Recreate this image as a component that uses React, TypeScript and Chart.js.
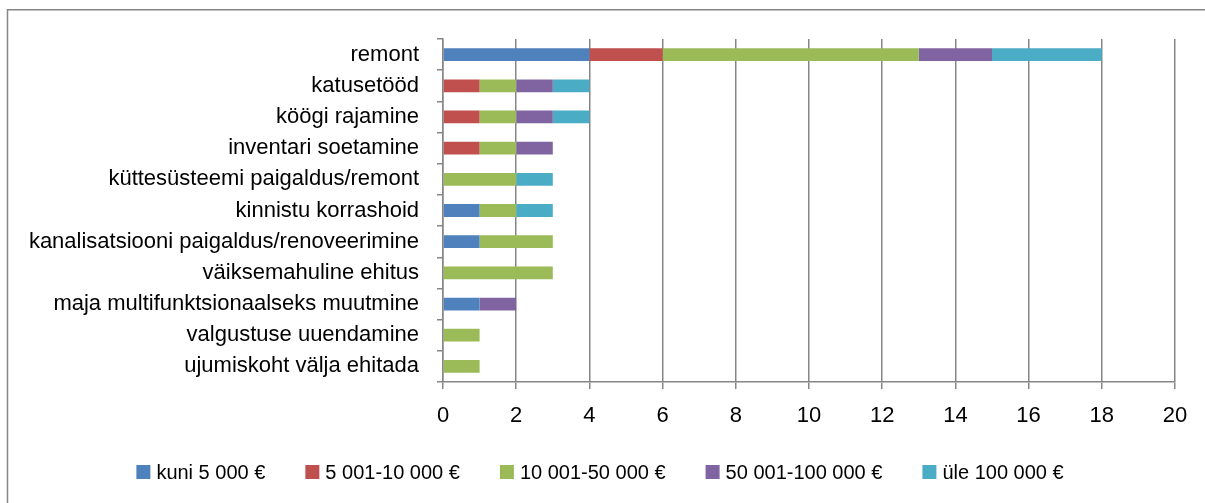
import React, { useEffect, useRef } from "react";
import { Chart, registerables } from "chart.js";

Chart.register(...registerables);

const categories = [
  "remont",
  "katusetööd",
  "köögi rajamine",
  "inventari soetamine",
  "küttesüsteemi paigaldus/remont",
  "kinnistu korrashoid",
  "kanalisatsiooni paigaldus/renoveerimine",
  "väiksemahuline ehitus",
  "maja multifunktsionaalseks muutmine",
  "valgustuse uuendamine",
  "ujumiskoht välja ehitada",
];

const seriesLabels = [
  "kuni 5 000 €",
  "5 001-10 000 €",
  "10 001-50 000 €",
  "50 001-100 000 €",
  "üle 100 000 €",
];

const kuni5000 = [4, 0, 0, 0, 0, 1, 1, 0, 1, 0, 0];
const from5001to10000 = [2, 1, 1, 1, 0, 0, 0, 0, 0, 0, 0];
const from10001to50000 = [7, 1, 1, 1, 2, 1, 2, 3, 0, 1, 1];
const from50001to100000 = [2, 1, 1, 1, 0, 0, 0, 0, 1, 0, 0];
const ule100000 = [3, 1, 1, 0, 1, 1, 0, 0, 0, 0, 0];

const xMin = 0;
const xMax = 20;
const xStep = 2;

const colors = ["#4F81BD", "#C0504D", "#9BBB59", "#8064A2", "#4BACC6"];
const FONT = "'Liberation Sans', Arial, sans-serif";
const GRID = "#868686";

const frame = {
  id: "frame",
  beforeDraw(chart: any) {
    const ctx = chart.ctx;
    ctx.save();
    ctx.fillStyle = "#ffffff";
    ctx.fillRect(0, 0, chart.width, chart.height);
    ctx.strokeStyle = GRID;
    ctx.lineWidth = 1.5;
    ctx.strokeRect(7.5, 9.75, chart.width + 50, chart.height + 50);
    ctx.restore();
  },
};

const bottomLegend = {
  id: "bottomLegend",
  afterDraw(chart: any) {
    const ctx = chart.ctx;
    ctx.save();
    ctx.font = `20px ${FONT}`;
    const box = 14;
    const textGap = 6;
    const itemGap = 40;
    const items = chart.data.datasets.map((d: any) => ({
      label: d.label as string,
      color: d.backgroundColor as string,
      w: ctx.measureText(d.label).width,
    }));
    const total =
      items.reduce((s: number, it: any) => s + box + textGap + it.w, 0) +
      itemGap * (items.length - 1);
    let x = 600 - total / 2;
    const y = 472;
    ctx.textBaseline = "middle";
    ctx.textAlign = "left";
    for (const it of items) {
      ctx.fillStyle = it.color;
      ctx.fillRect(x, y - box / 2, box, box);
      ctx.fillStyle = "#000";
      ctx.fillText(it.label, x + box + textGap, y + 1);
      x += box + textGap + it.w + itemGap;
    }
    ctx.restore();
  },
};

export default function App() {
  const ref = useRef<HTMLCanvasElement>(null);
  useEffect(() => {
    if (!ref.current) return;
    const values = [kuni5000, from5001to10000, from10001to50000, from50001to100000, ule100000];
    const chart = new Chart(ref.current, {
      type: "bar",
      data: {
        labels: categories,
        datasets: values.map((v, i) => ({
          label: seriesLabels[i],
          data: v,
          backgroundColor: colors[i],
          borderWidth: 0,
          barPercentage: 0.41,
          categoryPercentage: 1,
        })),
      },
      options: {
        indexAxis: "y",
        responsive: false,
        animation: false,
        layout: { padding: { left: 25, right: 30, top: 39, bottom: 72 } },
        plugins: {
          tooltip: { enabled: false },
          legend: { display: false },
        },
        scales: {
          x: {
            stacked: true,
            min: xMin,
            max: xMax,
            ticks: {
              stepSize: xStep,
              color: "#000",
              font: { family: FONT, size: 22 },
              padding: 14,
            },
            grid: {
              color: GRID,
              lineWidth: 1.5,
              tickLength: 7,
              drawTicks: true,
            },
            border: { color: GRID, width: 1.5 },
            afterFit: (s: any) => {
              s.height = 49;
            },
          },
          y: {
            stacked: true,
            ticks: {
              color: "#000",
              font: { family: FONT, size: 22 },
              padding: 18,
              autoSkip: false,
            },
            grid: {
              drawOnChartArea: false,
              drawTicks: true,
              tickLength: 6,
              color: GRID,
              lineWidth: 1.5,
            },
            border: { color: GRID, width: 1.5 },
            afterFit: (s: any) => {
              s.width = 418;
            },
          },
        },
      },
      plugins: [frame, bottomLegend],
    });
    return () => chart.destroy();
  }, []);
  return (
    <div style={{ position: "absolute", left: 0, top: 0, width: 1205, height: 503 }}>
      <canvas ref={ref} width={1205} height={503} />
    </div>
  );
}
